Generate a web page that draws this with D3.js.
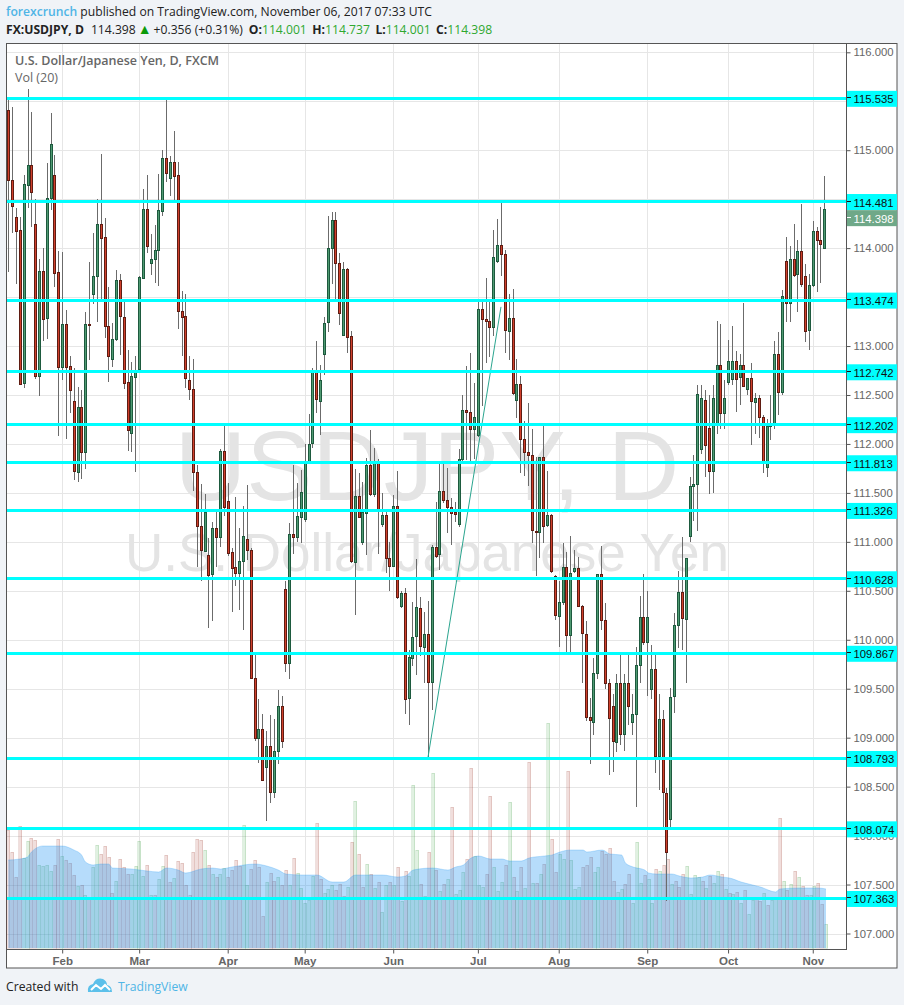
<!DOCTYPE html>
<html><head><meta charset="utf-8">
<script src="https://cdnjs.cloudflare.com/ajax/libs/d3/7.8.5/d3.min.js"></script>
<style>html,body{margin:0;padding:0;background:#f0f3f7}svg{display:block}</style>
</head><body><div id="c"></div>
<script>
const opens=[115.41,114.70,114.32,114.19,112.62,114.65,114.85,114.25,112.70,113.77,113.28,114.51,114.75,113.76,112.79,113.23,112.80,112.44,111.72,112.38,111.92,113.23,113.54,113.72,114.25,114.11,113.2,112.87,113.07,113.67,113.30,112.63,112.11,112.69,112.76,113.70,114.40,113.85,113.89,113.98,114.38,114.92,114.72,114.88,114.75,113.36,113.31,112.65,112.56,111.71,111.16,110.91,110.87,110.67,111.14,111.05,111.93,111.42,110.9,110.74,110.68,110.8,111.03,110.92,109.61,109.0,109.09,108.70,108.91,108.44,108.86,109.32,110.52,109.76,111.08,111.05,111.25,111.24,111.81,112.0,112.73,112.44,112.92,113.24,114.0,114.29,113.85,113.12,113.79,113.10,110.80,111.47,110.99,111.30,111.79,111.49,111.83,111.18,111.27,110.84,110.76,111.37,110.35,110.48,109.40,109.82,110.03,110.32,109.93,110.06,109.57,110.95,110.88,111.52,111.43,111.36,111.31,111.19,111.85,112.35,112.33,112.16,112.09,113.38,113.28,113.26,113.20,113.87,114.03,113.94,113.16,113.29,112.45,112.61,112.05,111.92,111.89,111.11,111.10,111.87,111.17,111.27,110.65,110.25,110.38,110.74,110.05,110.70,110.73,110.34,110.06,109.21,109.16,109.66,110.67,110.2,109.56,109.32,108.96,109.56,109.04,109.56,109.16,109.24,109.74,110.23,109.97,109.50,109.70,108.81,109.19,108.44,108.17,109.42,110.15,110.49,110.22,111.06,111.57,111.59,111.95,112.45,112.16,111.72,112.22,112.81,112.32,112.64,112.67,112.85,112.69,112.81,112.56,112.67,112.43,112.47,112.28,111.76,112.18,112.21,112.92,112.53,113.87,113.44,113.89,113.73,113.97,113.72,113.16,113.62,114.17,114.08,114.0];
const highs=[115.53,115.44,114.41,114.32,114.75,115.63,115.39,114.5,113.89,114.0,114.87,115.38,114.95,113.97,113.96,113.37,112.9,112.78,112.58,112.55,113.35,113.86,114.15,114.50,114.96,114.31,113.6,113.24,113.78,113.74,113.45,112.96,112.84,112.90,113.72,114.60,114.75,114.14,114.24,114.76,115.0,115.51,114.94,115.2,114.88,113.56,113.53,112.90,112.87,111.79,111.59,111.49,111.04,111.20,111.31,111.95,112.19,111.6,110.94,111.46,111.14,111.37,111.58,110.94,109.86,109.4,109.24,109.07,109.23,109.19,109.49,109.43,110.6,111.19,111.79,111.6,111.73,112.0,112.31,112.78,113.05,112.81,113.3,114.33,114.37,114.37,113.95,113.86,113.8,113.15,111.74,111.70,111.61,111.86,112.14,111.96,111.85,111.5,111.3,111.0,111.48,111.72,110.5,110.53,109.9,110.39,110.82,110.44,110.28,110.4,110.97,111.41,111.80,111.8,111.75,111.45,111.41,111.95,112.5,112.8,112.93,112.62,113.45,113.45,113.69,113.45,114.19,114.30,114.46,113.98,113.53,113.58,112.87,112.69,112.23,112.42,112.15,111.87,111.87,112.19,111.72,111.28,110.66,110.60,110.99,110.9,111.06,110.92,110.85,110.36,110.19,109.41,109.81,110.67,110.96,110.38,109.6,109.45,109.65,109.84,109.65,109.86,109.45,109.93,110.45,110.67,110.50,109.95,109.85,109.45,109.28,108.49,109.51,110.27,110.7,111.05,110.84,111.66,111.89,112.6,112.6,112.55,112.5,112.6,113.26,113.22,112.65,113.06,113.2,112.95,112.92,113.44,112.67,112.83,112.52,112.5,112.3,112.25,112.5,113.05,113.14,113.57,114.11,114.02,114.25,114.08,114.45,113.84,113.74,114.28,114.22,114.42,114.74];
const lows=[113.76,114.15,113.63,112.60,112.57,114.41,114.22,112.66,112.49,113.05,113.07,114.39,113.6,112.08,112.65,112.05,112.32,111.63,111.61,111.64,111.74,112.86,113.43,113.25,113.45,113.08,112.63,112.79,113.05,112.91,112.56,111.93,111.92,111.71,112.74,113.68,113.95,113.73,113.64,113.61,114.33,114.68,114.53,114.49,113.17,112.90,112.57,112.45,111.52,110.74,110.6,110.9,110.12,110.19,110.74,110.95,111.26,110.86,110.28,110.55,110.30,110.10,110.81,109.6,108.97,108.74,108.56,108.15,108.33,108.38,108.73,108.89,109.67,109.60,110.88,111.0,110.99,111.2,111.8,111.96,112.32,112.09,112.7,113.14,113.63,113.47,113.21,113.10,112.93,110.78,110.25,111.24,110.97,110.87,111.47,111.46,110.88,111.15,110.68,110.50,110.74,110.42,110.32,109.24,109.13,109.73,109.64,109.83,109.56,108.79,109.28,110.84,110.71,111.4,111.09,110.97,111.2,111.15,111.83,111.84,111.8,111.85,112.07,112.39,112.83,112.89,113.10,113.85,113.72,112.93,112.86,112.5,112.26,111.70,111.67,111.57,110.99,110.65,110.84,110.99,111.15,110.68,110.2,109.93,110.36,109.88,109.85,110.68,110.33,109.56,109.17,108.73,109.03,109.6,110.1,109.5,108.62,108.65,108.85,108.93,108.86,109.13,109.03,108.29,109.56,109.95,109.43,109.4,108.64,108.47,108.06,107.33,108.07,109.25,109.92,109.9,109.56,111.0,111.21,111.11,111.9,111.66,111.49,111.5,112.1,112.15,112.15,112.6,112.6,112.33,112.4,112.58,112.5,111.99,112.1,112.06,111.70,111.66,112.04,112.15,112.30,112.5,113.25,113.25,113.7,113.35,113.6,113.04,112.96,113.6,113.55,113.64,114.0];
const closes=[114.70,114.43,114.18,112.62,114.65,114.85,114.57,112.70,113.77,113.28,114.51,115.06,113.75,112.79,113.23,112.79,112.55,111.72,112.38,111.92,113.23,113.22,113.72,114.25,114.11,113.2,112.89,113.07,113.67,113.30,112.63,112.14,112.69,112.76,113.70,114.40,114.02,113.89,113.98,114.39,114.92,114.77,114.88,114.74,113.36,113.30,112.68,112.56,111.71,111.16,110.91,111.31,110.67,111.14,111.05,111.93,111.36,110.89,110.74,110.68,110.8,111.06,110.92,109.61,109.0,109.09,108.57,108.91,108.44,108.86,109.32,108.96,109.76,111.08,111.05,111.26,111.51,111.81,112.0,112.73,112.45,112.65,113.24,114.0,114.29,113.85,113.34,113.79,113.10,110.80,111.47,111.26,111.30,111.79,111.49,111.83,111.34,111.27,110.83,110.76,111.37,110.44,110.48,109.40,109.82,110.03,110.33,109.93,110.06,109.57,110.95,110.86,111.52,111.43,111.36,111.30,111.29,111.85,112.35,112.33,112.16,112.28,113.38,113.28,113.26,113.20,113.91,114.03,113.94,113.16,113.29,112.52,112.61,112.05,111.92,111.89,111.12,111.10,111.87,111.17,111.27,110.70,110.25,110.39,110.74,110.05,110.68,110.73,110.34,110.06,109.21,109.18,109.66,110.67,110.2,109.56,109.2,108.96,109.56,109.04,109.56,109.32,109.24,109.74,110.23,109.97,110.23,109.70,108.81,109.19,108.44,107.84,109.42,110.15,110.49,110.22,110.84,111.57,111.59,112.51,112.47,111.99,111.72,112.47,112.81,112.32,112.47,112.85,112.85,112.67,112.81,112.60,112.67,112.43,112.47,112.28,111.82,112.18,112.2,112.92,112.53,113.51,113.44,113.89,113.73,113.97,113.63,113.16,113.62,114.17,114.08,114.04,114.40];
// volume per bar; sign gives the bar's colour (minus = down day)
const volumes=[-118,-96,-71,-122,90,107,-110,-108,83,82,83,77,-83,-109,92,-88,-85,-73,62,-63,53,-49,81,103,-94,-102,-91,-55,67,-89,-81,-74,74,82,107,72,-83,53,-53,69,82,-93,-66,70,-87,-85,-63,-53,-96,-109,-108,98,-83,74,-71,74,80,-71,-78,-88,-82,123,63,-79,-88,-81,-32,66,-75,-67,71,-63,-78,63,-90,75,
60,45,48,72,-125,-69,55,59,63,-58,-64,-52,61,-106,147,-94,-61,84,-74,60,-66,36,63,-66,63,-81,47,-77,72,163,98,-64,52,-96,175,-78,57,-64,69,-141,54,58,76,-89,-180,92,63,61,-74,-152,81,57,66,-83,146,-71,57,-81,60,-186,65,-65,74,-84,225,-109,-76,94,89,-177,88,59,61,-81,-83,-91,76,81,
-97,-94,-100,-67,56,59,-64,-74,45,106,65,-73,69,45,-79,77,-83,-89,64,-67,-61,-74,82,54,73,71,-67,60,-72,65,77,-74,59,-55,54,-56,45,-58,34,48,-49,-47,55,-43,48,49,-130,67,-58,64,-77,71,-62,-53,53,62,-65,-44,24];
const maIndex=[0,3,5,6,9,14,17,19,20,22,24,26,27,32,36,39,41,44,46,50,53,55,58,64,67,70,72,76,80,84,87,90,93,97,101,103,105,110,114,116,118,120,122,125,128,130,133,135,139,141,143,146,149,150,154,156,159,160,162,165,166,168,172,174,177,180,182,185,187,190,193,195,199,200,205,210,212];
const maValues=[88,89,91,96,102,102,98,93,86,83,84,84,80,79,77,76,80,78,75,79,80,79,81,84,82,78,74,73,73,66,66,73,73,73,71,72,78,80,78,81,83,90,92,89,89,87,87,90,92,93,96,98,98,96,98,94,93,85,81,78,75,74,74,72,70,71,73,71,70,66,63,61,56,59,60,60,59];
const gridTicks=[107,107.5,108,108.5,109,109.5,110,110.5,111,111.5,112,112.5,113,113.5,114,114.5,115,115.5,116];
const priceTicks=[107,107.5,108,108.5,109,109.5,110,110.5,111,111.5,112,112.5,113,114,115,116];
const levels=[115.535,114.481,113.474,112.742,112.202,111.813,111.326,110.628,109.867,108.793,108.074,107.363];
const lastPrice=114.398;
const monthNames=["Feb","Mar","Apr","May","Jun","Jul","Aug","Sep","Oct","Nov"];
const monthIndex=[14,34,57,77,100,122,143,166,187,209];
const trendIndex=[109,128];
const trendPrice=[108.79,113.4];

const W=904,H=1005,sans="'Open Sans',sans-serif",arial="'Liberation Sans',Arial,sans-serif";
const svg=d3.select("#c").append("svg").attr("width",W).attr("height",H);
svg.append("rect").attr("width",W).attr("height",H).attr("fill","#f0f3f7");
svg.append("rect").attr("x",6.5).attr("y",43.5).attr("width",890.5).attr("height",924.5).attr("fill","#fff").attr("stroke","#555").attr("stroke-width",1);

const y=d3.scaleLinear().domain([107,116]).range([933.5,52.3]);
const x=d3.scaleLinear().domain([0,opens.length-1]).range([8.3,824.3]);
const xv=d3.scaleLinear().domain([0,volumes.length-1]).range([8.3,826]);
const v=d3.scaleLinear().domain([0,230]).range([948,718]);
const L=7,R=846.5,B=949.5;

const grid=svg.append("g").attr("shape-rendering","crispEdges").attr("stroke","#e6e6e6");
grid.selectAll(".h").data(gridTicks).join("line").attr("x1",L).attr("x2",R).attr("y1",d=>Math.round(y(d))+.5).attr("y2",d=>Math.round(y(d))+.5);
grid.selectAll(".v").data(monthIndex).join("line").attr("y1",44).attr("y2",B).attr("x1",d=>Math.round(x(d))+.5).attr("x2",d=>Math.round(x(d))+.5);

const wm=svg.append("g").attr("fill","#e4e4e4").attr("font-family",arial).attr("text-anchor","middle");
wm.append("text").attr("x",427).attr("y",500).attr("font-size",99).text("USDJPY, D");
wm.append("text").attr("x",427).attr("y",571).attr("font-size",53).text("U.S. Dollar/Japanese Yen");

svg.append("g").attr("shape-rendering","crispEdges").selectAll("rect").data(volumes).join("rect")
 .attr("x",(d,i)=>Math.round(xv(i))-1.5).attr("width",3)
 .attr("y",d=>v(Math.abs(d))).attr("height",d=>v(0)-v(Math.abs(d)))
 .attr("fill",d=>d<0?"rgba(172,60,50,.17)":"rgba(70,170,80,.17)")
 .attr("stroke",d=>d<0?"rgba(150,60,50,.16)":"rgba(60,150,70,.16)");

const maData=maIndex.map((i,k)=>[i,maValues[k]]);
svg.append("path").datum(maData).attr("d",d3.area().x(d=>xv(d[0])).y0(v(0)).y1(d=>v(d[1])).curve(d3.curveMonotoneX))
 .attr("fill","rgba(33,150,243,.33)");
svg.append("path").datum(maData).attr("d",d3.line().x(d=>xv(d[0])).y(d=>v(d[1])).curve(d3.curveMonotoneX))
 .attr("fill","none").attr("stroke","rgba(33,150,243,.25)").attr("stroke-width",1);

const ci=d3.range(opens.length);
const cg=svg.append("g").attr("shape-rendering","crispEdges");
cg.selectAll("line").data(ci).join("line")
 .attr("x1",i=>Math.round(x(i))+.5).attr("x2",i=>Math.round(x(i))+.5)
 .attr("y1",i=>y(highs[i])).attr("y2",i=>y(lows[i])).attr("stroke","#6b6b6b");
cg.selectAll("rect").data(ci).join("rect")
 .attr("x",i=>Math.round(x(i))-.5).attr("width",2)
 .attr("y",i=>Math.round(y(Math.max(opens[i],closes[i])))+.5)
 .attr("height",i=>Math.max(1,Math.round(Math.abs(y(opens[i])-y(closes[i])))))
 .attr("fill",i=>closes[i]>=opens[i]?"#4f9a72":"#d0402c")
 .attr("stroke",i=>closes[i]>=opens[i]?"#1d5a3e":"#5f1c12");

svg.append("line").attr("x1",x(trendIndex[0])).attr("y1",y(trendPrice[0])).attr("x2",x(trendIndex[1])).attr("y2",y(trendPrice[1]))
 .attr("stroke","#2ba58f").attr("stroke-width",1);

svg.append("g").selectAll("line").data(levels).join("line").attr("x1",L).attr("x2",R)
 .attr("y1",d=>Math.round(y(d))+.5).attr("y2",d=>Math.round(y(d))+.5).attr("stroke","#00ffff").attr("stroke-width",3).attr("shape-rendering","crispEdges");

// axes
const ay=d3.axisRight(y).tickValues(priceTicks).tickSize(4).tickPadding(3).tickFormat(d3.format(".3f"));
const gy=svg.append("g").attr("transform",`translate(${R},0)`).call(ay);
gy.select(".domain").remove();
gy.selectAll("text").attr("font-family",arial).attr("font-size",11.3).attr("fill","#666");
gy.selectAll("line").attr("stroke","#555");
const ax=d3.axisBottom(x).tickValues(monthIndex).tickSize(4).tickPadding(3).tickFormat((d,i)=>monthNames[i]);
const gx=svg.append("g").attr("transform",`translate(0,${B})`).call(ax);
gx.select(".domain").remove();
gx.selectAll("text").attr("font-family",arial).attr("font-size",11.5).attr("font-weight","bold").attr("fill","#666");
gx.selectAll("line").attr("stroke","#555");
svg.append("line").attr("x1",R).attr("x2",R).attr("y1",43.5).attr("y2",B).attr("stroke","#555").attr("shape-rendering","crispEdges");
svg.append("line").attr("x1",L).attr("x2",R).attr("y1",B).attr("y2",B).attr("stroke","#555").attr("shape-rendering","crispEdges");

function tag(val,bg,fg,shift){
  const g=svg.append("g");
  const c=y(val)+shift;
  g.append("rect").attr("x",R+.5).attr("y",c-7).attr("width",50).attr("height",16).attr("fill",bg);
  g.append("line").attr("x1",R).attr("x2",R+4).attr("y1",c).attr("y2",c).attr("stroke",fg).attr("shape-rendering","crispEdges");
  g.append("text").attr("x",R+7).attr("y",c+5.5).attr("font-family",arial).attr("font-size",11.3).attr("fill",fg).text(d3.format(".3f")(val));
}
levels.forEach(d=>tag(d,"#00ffff","#111",0));
tag(lastPrice,"#6fa888","#fff",8);

// header texts
const t1=svg.append("text").attr("x",6).attr("y",16).attr("font-family",sans).attr("font-size",12.15).attr("fill","#222");
t1.append("tspan").attr("fill","#4fb5e6").attr("font-weight","600").text("forexcrunch");
t1.append("tspan").text(" published on TradingView.com, November 06, 2017 07:33 UTC");
const t2=svg.append("text").attr("x",6).attr("y",34).attr("font-family",sans).attr("font-size",12.15).attr("fill","#222");
t2.append("tspan").attr("font-weight","bold").text("FX:USDJPY, D");
t2.append("tspan").attr("dx",7).text("114.398");
t2.append("tspan").attr("dx",2).attr("fill","#0a9a0a").attr("font-size",14).text("▲");
t2.append("tspan").attr("dx",2).text("+0.356 (+0.31%)");
[["O:","114.001",6],["H:","114.737",5.5],["L:","114.001",5.5],["C:","114.398",5.5]].forEach(([a,b,g])=>{
  t2.append("tspan").attr("dx",g).attr("font-weight","bold").text(a);
  t2.append("tspan").attr("fill","#2fa82f").text(b);
});
svg.append("text").attr("x",15).attr("y",65).attr("font-family",sans).attr("font-size",12.5).attr("font-weight","600").attr("fill","#666").text("U.S. Dollar/Japanese Yen, D, FXCM");
svg.append("text").attr("x",15).attr("y",82).attr("font-family",sans).attr("font-size",12.5).attr("fill","#666").text("Vol (20)");

// footer
svg.append("text").attr("x",6).attr("y",991).attr("font-family",sans).attr("font-size",12.2).attr("fill","#222").text("Created with");
svg.append("path").attr("d","M88 992 q-1 -7 5 -8 q3 -7 10 -5 q4 2 4 6 q5 1 5 7 z").attr("fill","#5cc0ea");
svg.append("path").attr("d","M91 990 l5 -5 l5 4 l4 -4 l5 5").attr("fill","none").attr("stroke","#fff").attr("stroke-width",2);
svg.append("text").attr("x",118).attr("y",991).attr("font-family",sans).attr("font-size",12.2).attr("fill","#4fb5e6").text("TradingView");
</script></body></html>
